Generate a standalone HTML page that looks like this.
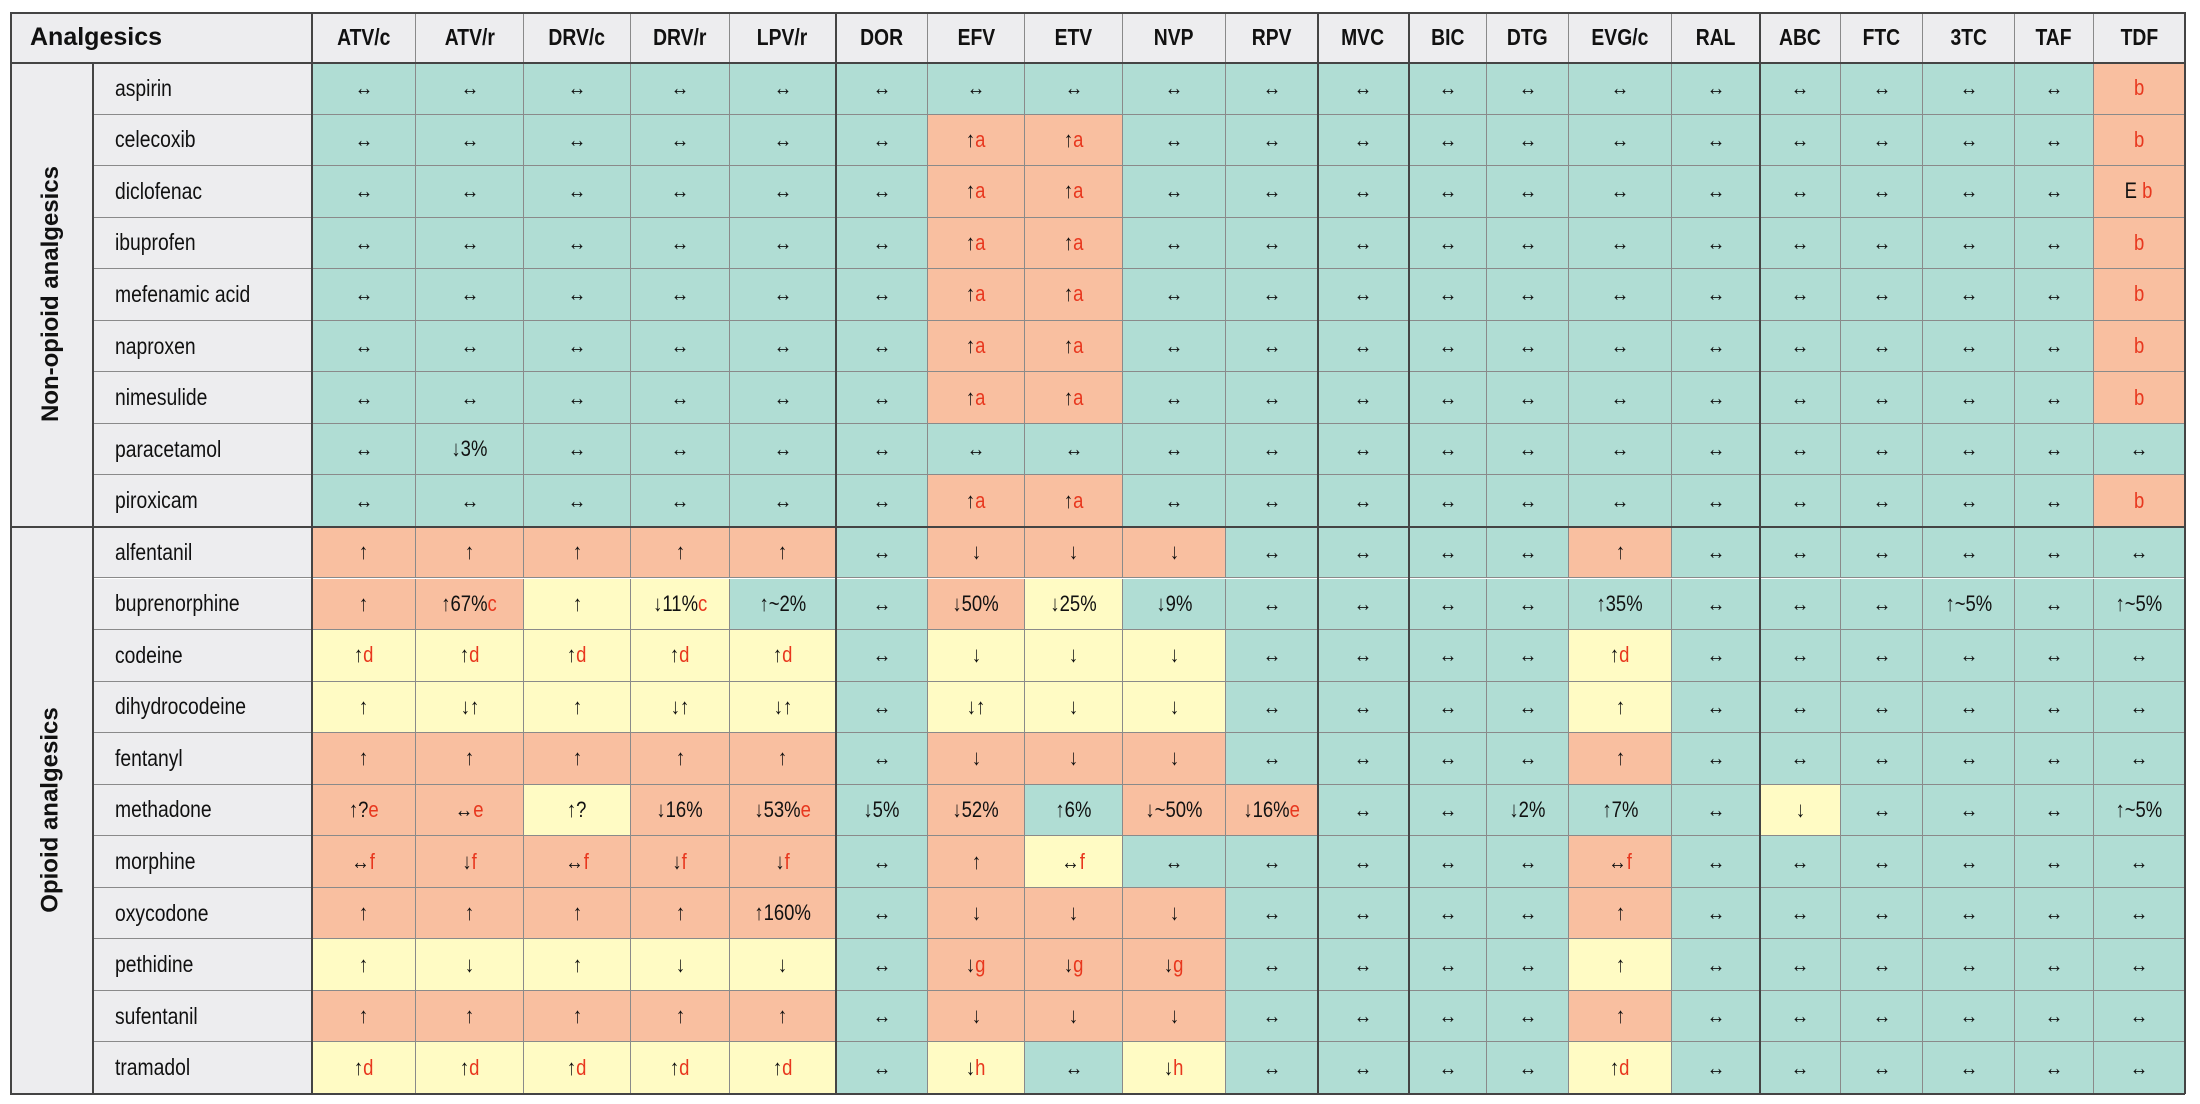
<!DOCTYPE html>
<html><head><meta charset="utf-8">
<style>
html,body{margin:0;padding:0;background:#fff;}
#wrap{position:relative;width:2200px;height:1104px;overflow:hidden;font-family:"Liberation Sans",Arial,sans-serif;}
.c{position:absolute;box-sizing:border-box;display:flex;align-items:center;justify-content:center;font-size:22px;color:#111;border-right:1.5px solid #8a8a8a;border-bottom:1.5px solid #8a8a8a;}
.h{font-weight:bold;font-size:23px;background:#ededef;}
.h span,.c span.n{display:inline-block;transform:scaleX(0.84);white-space:nowrap;}
.r{color:#e8371e;}
.lab{justify-content:flex-start;padding-left:22px;background:#ededef;font-size:23px;}
.g{background:#b0ddd4}.o{background:#f9bfa0}.y{background:#fffbc4}
.vl{position:absolute;background:#444;}
</style></head><body>
<div id="wrap"></div>
<script>
const drugs=["ATV/c","ATV/r","DRV/c","DRV/r","LPV/r","DOR","EFV","ETV","NVP","RPV","MVC","BIC","DTG","EVG/c","RAL","ABC","FTC","3TC","TAF","TDF"];
const colX=[312,416,524,631,730,836,928,1025,1123,1226,1318,1409,1487,1569,1672,1760,1841,1923,2015,2094,2185];
const nonOpioid=["aspirin","celecoxib","diclofenac","ibuprofen","mefenamic acid","naproxen","nimesulide","paracetamol","piroxicam"];
const opioid=["alfentanil","buprenorphine","codeine","dihydrocodeine","fentanyl","methadone","morphine","oxycodone","pethidine","sufentanil","tramadol"];
// overrides: drug index -> "color:text|note"
const nsaid={6:"o:↑|a",7:"o:↑|a",19:"o:|b"};
const cells={
 "aspirin":{19:"o:|b"},
 "celecoxib":nsaid,"ibuprofen":nsaid,"mefenamic acid":nsaid,"naproxen":nsaid,"nimesulide":nsaid,"piroxicam":nsaid,
 "diclofenac":{6:"o:↑|a",7:"o:↑|a",19:"o:E |b"},
 "paracetamol":{1:"g:↓3%"},
 "alfentanil":{0:"o:↑",1:"o:↑",2:"o:↑",3:"o:↑",4:"o:↑",6:"o:↓",7:"o:↓",8:"o:↓",13:"o:↑"},
 "buprenorphine":{0:"o:↑",1:"o:↑67%|c",2:"y:↑",3:"y:↓11%|c",4:"g:↑~2%",6:"o:↓50%",7:"y:↓25%",8:"g:↓9%",13:"g:↑35%",17:"g:↑~5%",19:"g:↑~5%"},
 "codeine":{0:"y:↑|d",1:"y:↑|d",2:"y:↑|d",3:"y:↑|d",4:"y:↑|d",6:"y:↓",7:"y:↓",8:"y:↓",13:"y:↑|d"},
 "dihydrocodeine":{0:"y:↑",1:"y:↓↑",2:"y:↑",3:"y:↓↑",4:"y:↓↑",6:"y:↓↑",7:"y:↓",8:"y:↓",13:"y:↑"},
 "fentanyl":{0:"o:↑",1:"o:↑",2:"o:↑",3:"o:↑",4:"o:↑",6:"o:↓",7:"o:↓",8:"o:↓",13:"o:↑"},
 "methadone":{0:"o:↑?|e",1:"o:↔|e",2:"y:↑?",3:"o:↓16%",4:"o:↓53%|e",5:"g:↓5%",6:"o:↓52%",7:"g:↑6%",8:"o:↓~50%",9:"o:↓16%|e",12:"g:↓2%",13:"g:↑7%",15:"y:↓",19:"g:↑~5%"},
 "morphine":{0:"o:↔|f",1:"o:↓|f",2:"o:↔|f",3:"o:↓|f",4:"o:↓|f",6:"o:↑",7:"y:↔|f",13:"o:↔|f"},
 "oxycodone":{0:"o:↑",1:"o:↑",2:"o:↑",3:"o:↑",4:"o:↑160%",6:"o:↓",7:"o:↓",8:"o:↓",13:"o:↑"},
 "pethidine":{0:"y:↑",1:"y:↓",2:"y:↑",3:"y:↓",4:"y:↓",6:"o:↓|g",7:"o:↓|g",8:"o:↓|g",13:"y:↑"},
 "sufentanil":{0:"o:↑",1:"o:↑",2:"o:↑",3:"o:↑",4:"o:↑",6:"o:↓",7:"o:↓",8:"o:↓",13:"o:↑"},
 "tramadol":{0:"y:↑|d",1:"y:↑|d",2:"y:↑|d",3:"y:↑|d",4:"y:↑|d",6:"y:↓|h",8:"y:↓|h",13:"y:↑|d"}
};
const W=document.getElementById('wrap');
const TOP=12,HB=63,RH=51.55,LEFT=10,GX=93,BOTTOM=1094;
function box(x,y,w,h,cls,html,name){
 const d=document.createElement('div');
 d.className='c '+cls;
 d.style.left=x+'px';d.style.top=y+'px';d.style.width=w+'px';d.style.height=h+'px';
 d.innerHTML=html;
 
 
 W.appendChild(d);return d;
}
const hd=box(LEFT,TOP,colX[0]-LEFT,HB-TOP,'h','<span style="transform:none">Analgesics</span>','header-analgesics');
hd.style.justifyContent='flex-start';hd.style.paddingLeft='20px';hd.style.fontSize='25px';
drugs.forEach((d,i)=>{box(colX[i],TOP,colX[i+1]-colX[i],HB-TOP,'h','<span>'+d+'</span>','header-'+d.toLowerCase().replace('/','-'));});
const rows=nonOpioid.concat(opioid);
rows.forEach((r,ri)=>{
 const y=HB+ri*RH;
 box(GX,y,colX[0]-GX,RH,'lab','<span class="n" style="transform-origin:left">'+r+'</span>','row-label-'+r.replace(' ','-'));
 const ov=cells[r]||{};
 drugs.forEach((d,ci)=>{
  let s=ov[ci]||(r==="paracetamol"&&ci===19?"g:↔":"g:↔");
  const col=s[0];let t=s.slice(2);let note='';
  if(t.includes('|')){[t,note]=t.split('|');}
  const html='<span class="n">'+t+(note?'<span class="r">'+note+'</span>':'')+'</span>';
  box(colX[ci],y,colX[ci+1]-colX[ci],RH,col,html,'cell-'+r.replace(' ','-')+'-'+d.toLowerCase().replace('/','-'));
 });
});
// group labels
function grp(y0,y1,txt,name){
 const d=box(LEFT,y0,GX-LEFT,y1-y0,'h','',name);
 d.style.background='#ededef';
 const s=document.createElement('div');
 s.textContent=txt;
 s.style.transform='rotate(-90deg)';s.style.whiteSpace='nowrap';s.style.fontSize='24px';s.style.fontWeight='bold';
 d.appendChild(s);
}
grp(HB,HB+9*RH,'Non-opioid analgesics','group-non-opioid');
grp(HB+9*RH,BOTTOM,'Opioid analgesics','group-opioid');
// dark lines
function line(x,y,w,h,n){const l=document.createElement('div');l.className='vl';l.style.left=x+'px';l.style.top=y+'px';l.style.width=w+'px';l.style.height=h+'px';


W.appendChild(l);}
line(LEFT,TOP,colX[20]-LEFT,2,'border-top');
line(LEFT,BOTTOM-1,colX[20]-LEFT,2,'border-bottom');
line(LEFT,TOP,2,BOTTOM-TOP,'border-left');
line(colX[20]-1,TOP,2,BOTTOM-TOP,'border-right');
line(LEFT,HB-1,colX[20]-LEFT,2,'header-line');
line(LEFT,HB+9*RH-1,colX[20]-LEFT,2,'group-line');
line(colX[0]-1,TOP,2,BOTTOM-TOP,'label-line');
line(GX-1,HB,1.5,BOTTOM-HB,'group-col-line');
[5,10,11,15].forEach(i=>line(colX[i]-1,TOP,1.5,BOTTOM-TOP,'class-line-'+i));
</script>
</body></html>
